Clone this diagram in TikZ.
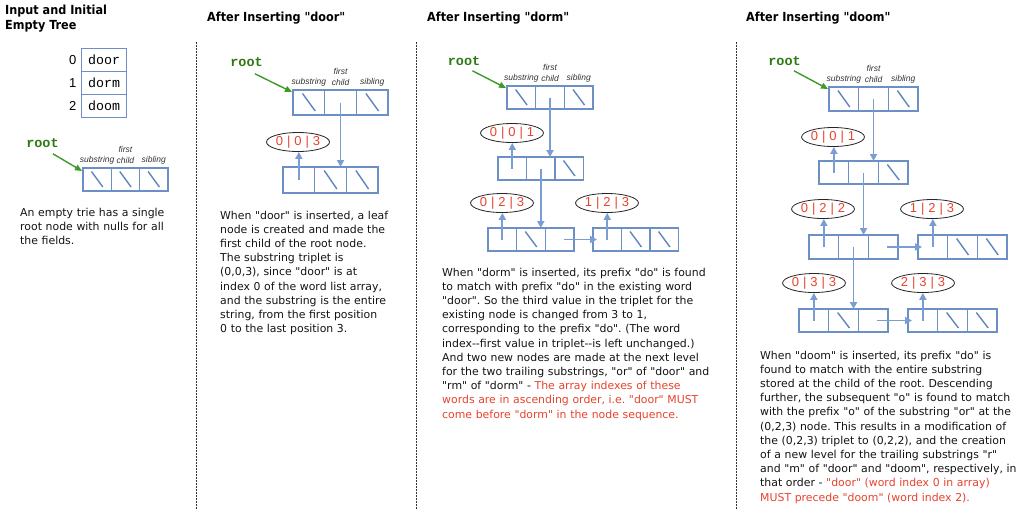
\documentclass[tikz,border=0pt]{standalone}
\usepackage{fontspec}
\newfontfamily\bodyfam{DejaVu Sans}
\newfontfamily\headfam{DejaVu Sans Condensed}
\newfontfamily\monofam{Liberation Mono}
\newfontfamily\labfam{Liberation Sans}
\usetikzlibrary{shapes.geometric,arrows.meta,calc}
\definecolor{nodeblue}{HTML}{6C90C6}
\definecolor{arrowblue}{HTML}{7A9ED2}
\definecolor{slashblue}{HTML}{5F86C0}
\definecolor{tred}{HTML}{E8432E}
\definecolor{gline}{HTML}{3E9A2A}
\definecolor{rootgreen}{HTML}{2E7A12}
\definecolor{labgray}{HTML}{333333}
\newcommand\trirow[5]{%
  \node[cell, minimum width=#4pt, minimum height=#5pt, anchor=north west] (#1-1) at (#2,#3) {};
  \node[cell, minimum width=#4pt, minimum height=#5pt, anchor=west] (#1-2) at (#1-1.east) {};
  \node[cell, minimum width=#4pt, minimum height=#5pt, anchor=west] (#1-3) at (#1-2.east) {};}
\newcommand\nullslash[1]{\draw[slash] ($(#1.north west)!0.3!(#1.north east)+(0,3.5)$) -- ($(#1.south west)!0.7!(#1.south east)+(0,-4)$);}
\newcommand\trip[3]{#1\hspace{4pt}|\hspace{4pt}#2\hspace{4pt}|\hspace{4pt}#3}
\newcommand\fieldlabels[1]{%
  \node[lab] (#1-ls) at ([yshift=7.5pt]#1-1.north) {substring};
  \node[lab] (#1-lc) at ([yshift=7.5pt]#1-2.north) {child};
  \node[lab] (#1-lf) at ([yshift=19pt]#1-2.north) {first};
  \node[lab] (#1-lb) at ([yshift=7.5pt]#1-3.north) {sibling};}
\begin{document}
\begin{tikzpicture}[x=1pt,y=-1pt,
  cell/.style={draw=nodeblue, line width=1.3pt, inner sep=0pt, outer sep=0pt},
  slash/.style={draw=slashblue, line width=1.4pt},
  ptr/.style={draw=arrowblue, line width=1.8pt, -{Triangle[length=7pt,width=7pt]}},
  garrow/.style={draw=gline, line width=1.4pt, -{Triangle[length=7pt,width=6pt]}},
  trip/.style={ellipse, draw=black!85, line width=0.8pt, minimum height=19pt, inner sep=0pt, text=tred, font=\labfam\fontsize{13}{13}\selectfont},
  lab/.style={inner sep=0pt, text=labgray, font=\labfam\itshape\fontsize{8.5}{9}\selectfont},
  rootlab/.style={inner sep=0pt, text=rootgreen, font=\monofam\bfseries\fontsize{13.5}{13.5}\selectfont},
  head/.style={inner sep=0pt, anchor=base west, font=\headfam\bfseries\fontsize{12.5}{15}\selectfont},
  body/.style={inner sep=0pt, anchor=base west, align=left, text=black!92, font=\bodyfam\fontsize{10.9}{14.2}\selectfont\frenchspacing},
  wcell/.style={draw=nodeblue, line width=1.3pt, minimum width=45pt, minimum height=23pt, inner sep=0pt, font=\monofam\fontsize{13.3}{14}\selectfont},
  idx/.style={inner sep=0pt, font=\labfam\fontsize{13}{14}\selectfont},
  sep/.style={draw=black!80, line width=0.8pt, dash pattern=on 1.5pt off 1.5pt}]
\fill[white] (0,0) rectangle (1024,515);
\useasboundingbox (0,0) rectangle (1024,515);

% separators
\draw[sep] (196,42) -- (196,510);
\draw[sep] (416,42) -- (416,510);
\draw[sep] (736,42) -- (736,510);

% headings
\node[head] (h1a) at (5,14.5) {Input and Initial};
\node[head] (h1b) at (5,29.5) {Empty Tree};
\node[head] (h2) at (207,21.5) {After Inserting "door"};
\node[head] (h3) at (427,21.5) {After Inserting "dorm"};
\node[head] (h4) at (746,21.5) {After Inserting "doom"};

% ---------- panel 1 ----------
\node[wcell] (w0) at (104.2,59.7) {door};
\node[wcell] (w1) at (104.2,82.7) {dorm};
\node[wcell] (w2) at (104.2,105.8) {doom};
\node[idx] (i0) at (72.7,59.7) {0};
\node[idx] (i1) at (72.7,82.7) {1};
\node[idx] (i2) at (72.7,105.8) {2};

\node[rootlab] (r1) at (42.5,143) {root};
\trirow{p1}{83}{168}{28.3}{23}
\nullslash{p1-1}\nullslash{p1-2}\nullslash{p1-3}
\fieldlabels{p1}
\draw[garrow] ([xshift=-6pt,yshift=-6pt]r1.south east) -- ([xshift=-1pt,yshift=-3pt]p1-1.north west);

\node[body, text width=175pt] (t1) at (20,216.5) {An empty trie has a single\\root node with nulls for all\\the fields.};

% ---------- panel 2 ----------
\node[rootlab] (r2) at (246.5,62) {root};
\trirow{p2a}{293}{90}{31.7}{25}
\trirow{p2b}{283}{167}{31.7}{26}
\nullslash{p2a-1}\nullslash{p2a-3}
\nullslash{p2b-2}\nullslash{p2b-3}
\fieldlabels{p2a}
\node[trip, minimum width=63pt] (e2) at (298,142) {\trip{0}{0}{3}};
\draw[garrow] ([xshift=-8pt,yshift=-7pt]r2.south east) -- ([xshift=-1pt,yshift=-2pt]p2a-1.north west);
\draw[ptr] (p2a-2.center) -- (p2a-2.center |- p2b-2.north);
\draw[ptr] (p2b-1.center) -- (p2b-1.center |- e2.south);

\node[body, text width=200pt] (t2) at (220,219) {When "door" is inserted, a leaf\\node is created and made the\\first child of the root node.\\The substring triplet is\\(0,0,3), since "door" is at\\index 0 of the word list array,\\and the substring is the entire\\string, from the first position\\0 to the last position 3.};

% ---------- panel 3 ----------
\node[rootlab] (r3) at (464,61) {root};
\trirow{p3a}{507}{86}{28.7}{23}
\trirow{p3b}{498}{157}{28.5}{23}
\trirow{p3c}{488}{228}{28.7}{23}
\trirow{p3d}{593}{228}{28.5}{23}
\nullslash{p3a-1}\nullslash{p3a-3}
\nullslash{p3b-3}
\nullslash{p3c-2}
\nullslash{p3d-2}\nullslash{p3d-3}
\fieldlabels{p3a}
\node[trip, minimum width=57pt] (e3a) at (512,133) {\trip{0}{0}{1}};
\node[trip, minimum width=57pt] (e3b) at (502,203) {\trip{0}{2}{3}};
\node[trip, minimum width=57pt] (e3c) at (607,203) {\trip{1}{2}{3}};
\draw[garrow] ([xshift=-8pt,yshift=-5pt]r3.south east) -- ([xshift=-1pt,yshift=-2pt]p3a-1.north west);
\draw[ptr] (p3a-2.center) -- (p3a-2.center |- p3b-2.north);
\draw[ptr] (p3b-1.center) -- (p3b-1.center |- e3a.south);
\draw[ptr] (p3b-2.center) -- (p3b-2.center |- p3c-2.north);
\draw[ptr] (p3c-1.center) -- (p3c-1.center |- e3b.south);
\draw[ptr] (p3d-1.center) -- (p3d-1.center |- e3c.south);
\draw[ptr] ([xshift=4pt]p3c-3.center) -- ([xshift=4pt]p3c-3.center -| p3d-1.west);

\node[body, text width=300pt] (t3) at (442,276) {When "dorm" is inserted, its prefix "do" is found\\to match with prefix "do" in the existing word\\"door". So the third value in the triplet for the\\existing node is changed from 3 to 1,\\corresponding to the prefix "do". (The word\\index-{}-first value in triplet-{}-is left unchanged.)\\And two new nodes are made at the next level\\for the two trailing substrings, "or" of "door" and\\"rm" of "dorm" - {\color{tred}The array indexes of these}\\{\color{tred}words are in ascending order, i.e. "door" MUST}\\{\color{tred}come before "dorm" in the node sequence.}};

% ---------- panel 4 ----------
\node[rootlab] (r4) at (784.5,61) {root};
\trirow{p4a}{829}{87}{29.7}{24}
\trirow{p4b}{819}{161}{29.7}{23}
\trirow{p4c}{809}{235}{29.7}{24}
\trirow{p4d}{918}{235}{29.7}{24}
\trirow{p4e}{799}{309}{29.7}{23}
\trirow{p4f}{908}{309}{29.7}{23}
\nullslash{p4a-1}\nullslash{p4a-3}
\nullslash{p4b-3}
\nullslash{p4d-2}\nullslash{p4d-3}
\nullslash{p4e-2}
\nullslash{p4f-2}\nullslash{p4f-3}
\fieldlabels{p4a}
\node[trip, minimum width=60pt] (e4a) at (833,137) {\trip{0}{0}{1}};
\node[trip, minimum width=60pt] (e4b) at (823,209) {\trip{0}{2}{2}};
\node[trip, minimum width=60pt] (e4c) at (932,209) {\trip{1}{2}{3}};
\node[trip, minimum width=60pt] (e4d) at (814,283) {\trip{0}{3}{3}};
\node[trip, minimum width=60pt] (e4e) at (923,283) {\trip{2}{3}{3}};
\draw[garrow] ([xshift=-7pt,yshift=-5pt]r4.south east) -- ([xshift=-1pt,yshift=-2pt]p4a-1.north west);
\draw[ptr] (p4a-2.center) -- (p4a-2.center |- p4b-2.north);
\draw[ptr] (p4b-1.center) -- (p4b-1.center |- e4a.south);
\draw[ptr] (p4b-2.center) -- (p4b-2.center |- p4c-2.north);
\draw[ptr] (p4c-1.center) -- (p4c-1.center |- e4b.south);
\draw[ptr] (p4d-1.center) -- (p4d-1.center |- e4c.south);
\draw[ptr] ([xshift=4pt]p4c-3.center) -- ([xshift=4pt]p4c-3.center -| p4d-1.west);
\draw[ptr] (p4c-2.center) -- (p4c-2.center |- p4e-2.north);
\draw[ptr] (p4e-1.center) -- (p4e-1.center |- e4d.south);
\draw[ptr] (p4f-1.center) -- (p4f-1.center |- e4e.south);
\draw[ptr] ([xshift=4pt]p4e-3.center) -- ([xshift=4pt]p4e-3.center -| p4f-1.west);

\node[body, text width=280pt] (t4) at (760,359) {When "doom" is inserted, its prefix "do" is\\found to match with the entire substring\\stored at the child of the root. Descending\\further, the subsequent "o" is found to match\\with the prefix "o" of the substring "or" at the\\(0,2,3) node. This results in a modification of\\the (0,2,3) triplet to (0,2,2), and the creation\\of a new level for the trailing substrings "r"\\and "m" of "door" and "doom", respectively, in\\that order - {\color{tred}"door" (word index 0 in array)}\\{\color{tred}MUST precede "doom" (word index 2).}};
\end{tikzpicture}
\end{document}
